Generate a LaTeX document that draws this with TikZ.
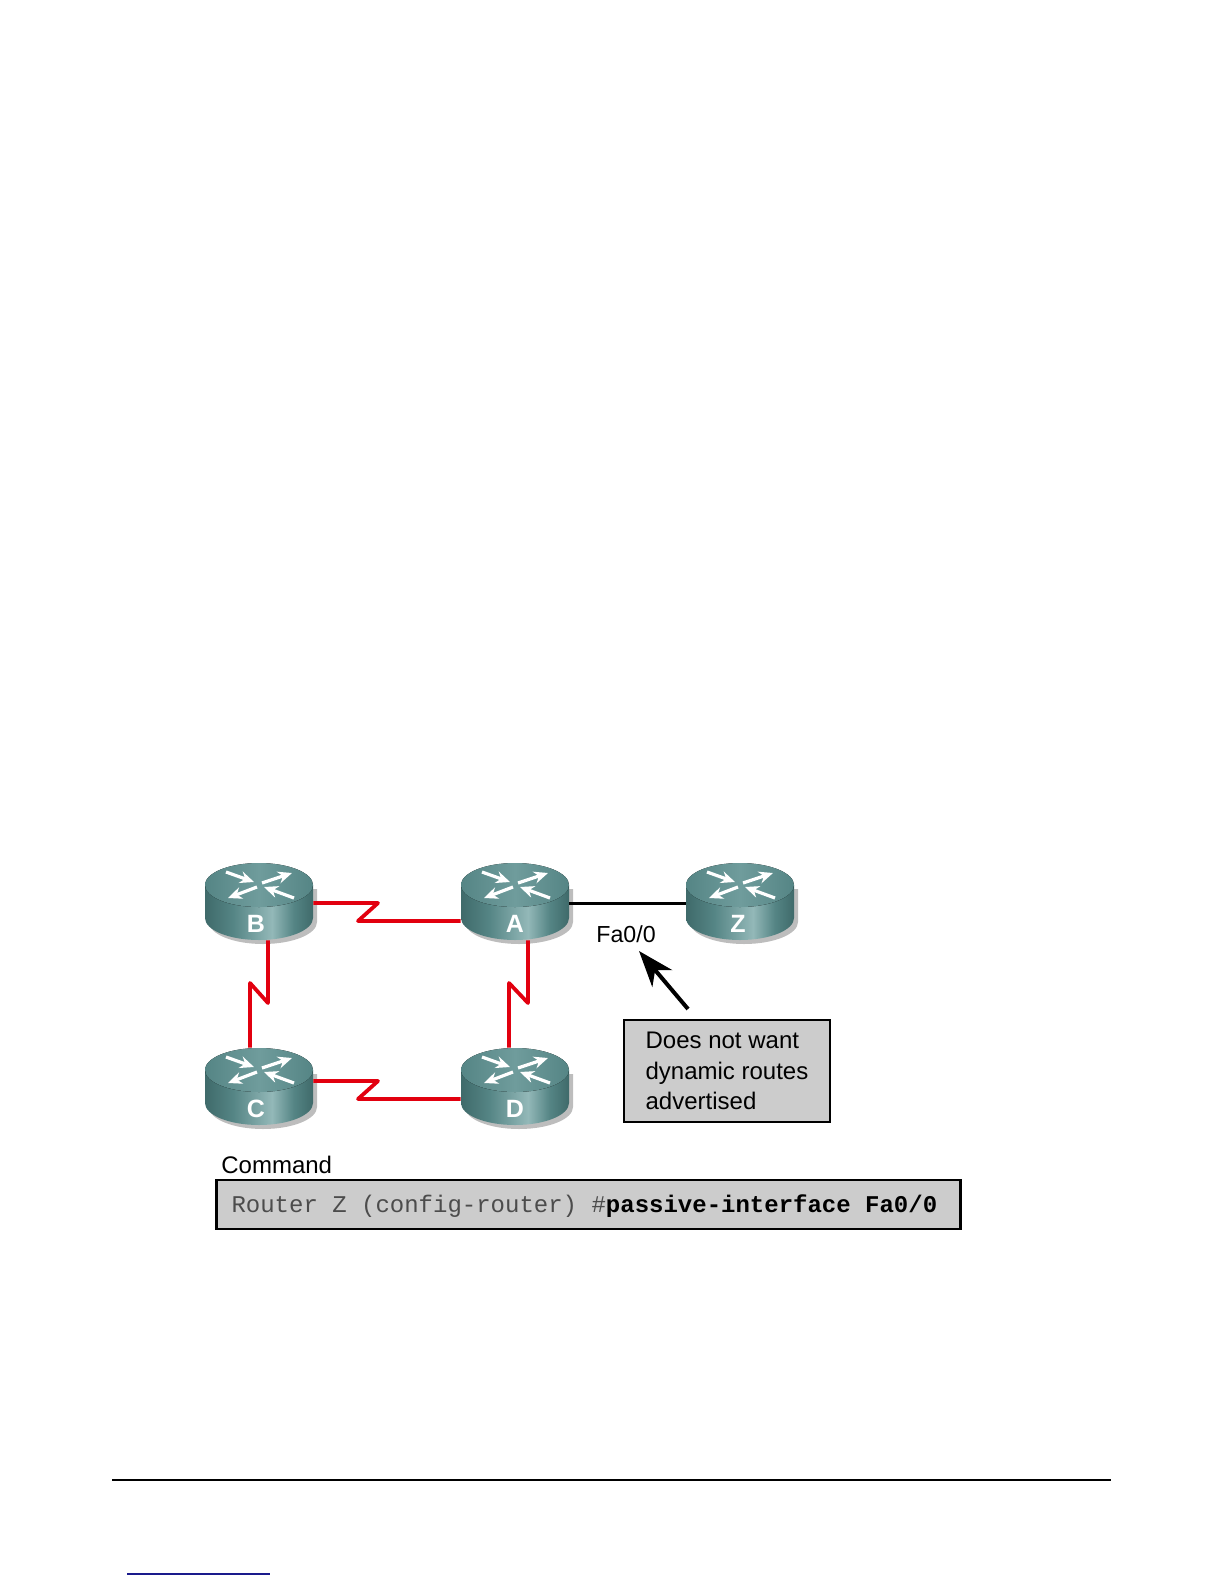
\documentclass[tikz,border=0pt]{standalone}
\usepackage{fontspec}
\setmainfont{Liberation Sans}
\setmonofont{Liberation Mono}
\usepackage{xcolor}
\usetikzlibrary{arrows.meta,calc}

\definecolor{routertop}{HTML}{6F9C9C}
\definecolor{routertopdark}{HTML}{558585}
\definecolor{routeredge}{HTML}{3F6A6A}
\definecolor{routerlight}{HTML}{93B8B8}
\definecolor{routershadow}{HTML}{BDBDBD}
\definecolor{serialred}{HTML}{E2000F}
\definecolor{boxgray}{HTML}{CCCCCC}
\definecolor{linkblue}{HTML}{1A1A8C}

\pgfdeclarehorizontalshading{routerbody}{100bp}{
  color(0bp)=(routeredge); color(25bp)=(routeredge); color(38bp)=(routertopdark);
  color(56bp)=(routerlight); color(66bp)=(routertopdark); color(75bp)=(routeredge); color(100bp)=(routeredge)}

\tikzset{
  routernode/.style={minimum width=54pt,minimum height=38.5pt,inner sep=0pt,
    text height=30.5pt,text depth=0pt,text=white,font=\bfseries\fontsize{12.5}{14}\selectfont},
  serial/.style={draw=serialred,line width=1.9pt,line join=round},
  ethernet/.style={draw=black,line width=1.5pt},
  flow/.style={-{Stealth[length=7pt,width=6pt]},white,line width=1.6pt},
  notebox/.style={draw=black,fill=boxgray,line width=1.1pt,inner sep=0pt,
    minimum width=103pt,minimum height=51pt,align=flush left,font=\fontsize{12}{15.3}\selectfont},
  cmdbox/.style={draw=black,fill=boxgray,line width=1.1pt,inner xsep=7.5pt,inner ysep=0pt,
    minimum height=24.5pt,text width=357pt,text height=9pt,text depth=1.5pt,align=flush left,
    font=\ttfamily\fontsize{12}{14}\selectfont},
  plainlabel/.style={inner sep=0pt,font=\fontsize{11.6}{14}\selectfont}
}

\begin{document}
\begin{tikzpicture}[x=0.5pt,y=-0.5pt]
  \useasboundingbox (0,0) rectangle (1224,1584);

  % routers
  \foreach \name/\x/\y/\txt in {b/259/885/{\kern-3pt B},a/515/885/A,z/740/885/{\kern-2pt Z},c/259/1070/{\kern-3pt C},d/515/1070/D}{
    \begin{scope}[shift={(\x,\y)}]
      \fill[routershadow] (-50,4) -- (-50,37) arc[start angle=180,end angle=360,x radius=27pt,y radius=11pt] -- (58,4) -- cycle;
      \path[shading=routerbody] (-54,0) -- (-54,33) arc[start angle=180,end angle=360,x radius=27pt,y radius=11pt] -- (54,0) -- cycle;
      \fill[left color=routertopdark,right color=routertopdark,middle color=routertop] (0,0) ellipse[x radius=27pt,y radius=11pt];
      \draw[flow] (-33,-13) -- (-5,-3);
      \draw[flow] (3,-2) -- (33,-12);
      \draw[flow] (-2,2) -- (-31,13);
      \draw[flow] (35,13) -- (5,2);
    \end{scope}
    \node[routernode] (\name) at (\x,\y+16.5) {\txt};
  }

  % serial links
  \coordinate (ba1) at (378,903);
  \coordinate (ba2) at (358,921);
  \coordinate (cd1) at (378,1081);
  \coordinate (cd2) at (358,1099);
  \coordinate (bc1) at (268,1003);
  \coordinate (bc2) at (250,983);
  \coordinate (ad1) at (528,1003);
  \coordinate (ad2) at (509,983);
  \draw[serial] (b.east |- ba1) -- (ba1) -- (ba2) -- (a.west |- ba2);
  \draw[serial] (c.east |- cd1) -- (cd1) -- (cd2) -- (d.west |- cd2);
  \draw[serial] (b.south -| bc1) -- (bc1) -- (bc2) -- (c.north -| bc2);
  \draw[serial] (a.south -| ad1) -- (ad1) -- (ad2) -- (d.north -| ad2);
  \draw[ethernet] (a.east |- ba1) -- (z.west |- ba1);

  % labels and boxes
  \node[plainlabel,anchor=base west] (fa) at (596,942) {Fa0/0};
  \node[notebox] (note) at (727,1071) {Does not want\\dynamic routes\\advertised};
  \coordinate (notetail) at (688,1009);
  \coordinate (fatip) at (639,951);
  \draw[-{Stealth[length=18pt,width=13pt,inset=5.5pt]},line width=2pt] (notetail) -- (fatip);
  \node[plainlabel,anchor=base west,font=\fontsize{12}{14}\selectfont] (cmdlabel) at (221,1173) {Command};
  \node[cmdbox] (cmd) at (588.5,1204.5) {\textcolor{black!70}{Router Z (config-router) \#}\textbf{passive-interface Fa0/0}};

  % footer
  \coordinate (footl) at (112,1480);
  \coordinate (footr) at (1111,1480);
  \coordinate (linkl) at (127,1574);
  \coordinate (linkr) at (270,1574);
  \draw[line width=0.75pt] (footl) -- (footr);
  \draw[linkblue,line width=0.9pt] (linkl) -- (linkr);
\end{tikzpicture}
\end{document}
